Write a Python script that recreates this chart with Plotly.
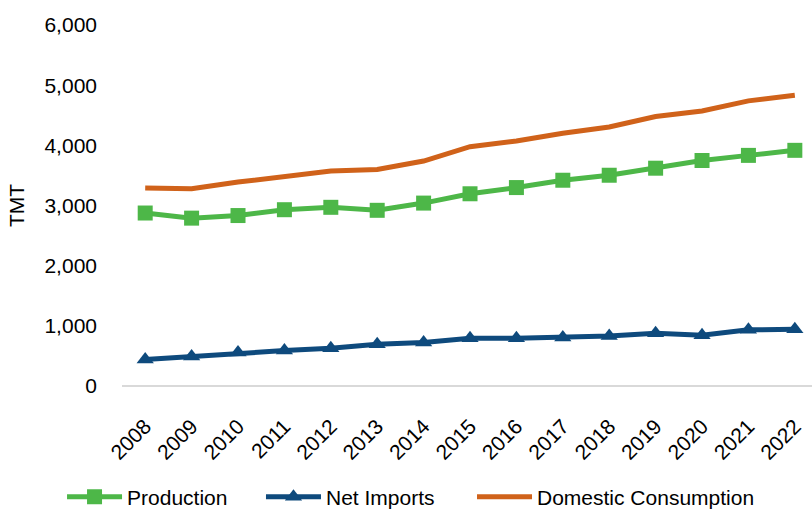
import plotly.graph_objects as go

years = [str(y) for y in range(2008, 2023)]
production = [2875, 2790, 2833, 2930, 2970, 2920, 3040, 3195, 3298, 3420, 3503, 3620, 3748, 3833, 3917]
net_imports = [440, 489, 556, 589, 628, 694, 722, 794, 794, 806, 833, 878, 844, 933, 944]
domestic = [3289, 3278, 3389, 3489, 3572, 3600, 3739, 3978, 4072, 4200, 4306, 4478, 4572, 4739, 4833]
y_ticks = [0, 1000, 2000, 3000, 4000, 5000, 6000]
y_ticklabels = ["0", "1,000", "2,000", "3,000", "4,000", "5,000", "6,000"]

GREEN = "#4DB748"
NAVY = "#0E4A7D"
ORANGE = "#D0621A"
FONT = "Liberation Sans, Arial, sans-serif"
FS = 21

fig = go.Figure()
fig.add_trace(go.Scatter(x=years, y=production, name="Production", mode="lines+markers",
                         line=dict(color=GREEN, width=5), legend="legend",
                         marker=dict(symbol="square", size=15, color=GREEN)))
fig.add_trace(go.Scatter(x=years, y=net_imports, name="Net Imports", mode="lines+markers",
                         line=dict(color=NAVY, width=5), legend="legend2",
                         marker=dict(symbol="triangle-up", size=15, color=NAVY)))
fig.add_trace(go.Scatter(x=years, y=domestic, name="Domestic Consumption", mode="lines",
                         line=dict(color=ORANGE, width=5), legend="legend3"))

leg_common = dict(orientation="h", xanchor="left", xref="container", yref="container",
                  y=0.0255, yanchor="middle",
                  font=dict(size=FS), itemwidth=55, bgcolor="rgba(0,0,0,0)")

fig.update_layout(
    width=812, height=510,
    margin=dict(l=122, r=0, t=25, b=124),
    paper_bgcolor="white", plot_bgcolor="white",
    font=dict(family=FONT, size=FS, color="#000000"),
    showlegend=True,
    legend=dict(x=0.0764, **leg_common),
    legend2=dict(x=0.3214, **leg_common),
    legend3=dict(x=0.5813, **leg_common),
    xaxis=dict(type="category", range=[-0.5, 14.37], showgrid=False, zeroline=False,
               showline=False, tickangle=-45, tickfont=dict(size=FS), ticks="",
               ticklabelstandoff=23, automargin=False),
    yaxis=dict(range=[0, 6000], tickvals=y_ticks, ticktext=y_ticklabels, showgrid=False,
               zeroline=True, zerolinecolor="#D9D9D9", zerolinewidth=2, showline=False,
               tickfont=dict(size=FS), ticklabelstandoff=24, automargin=False,
               title=dict(text="TMT", font=dict(size=FS), standoff=14)),
)

fig.write_html("out.html", config={"displayModeBar": False},
               post_script="document.body.style.margin='0';")
